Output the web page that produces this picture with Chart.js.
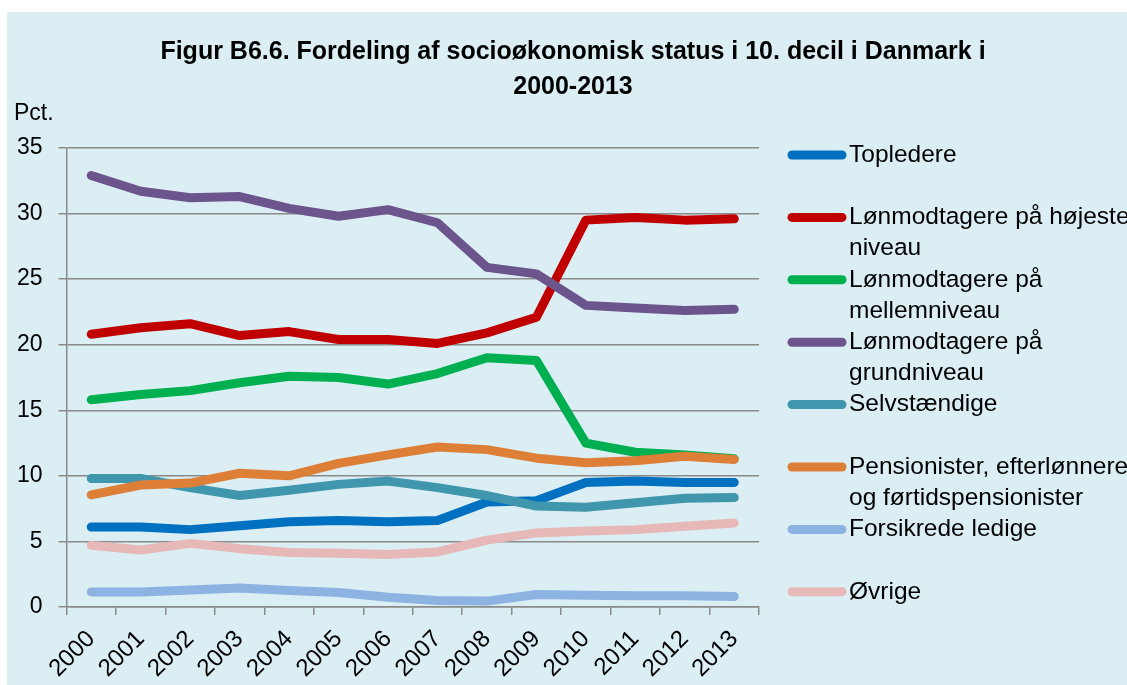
<!DOCTYPE html>
<html>
<head>
<meta charset="utf-8">
<script src="https://cdn.jsdelivr.net/npm/chart.js@4/dist/chart.umd.min.js"></script>
<style>
  html, body { margin: 0; padding: 0; background: #ffffff; }
  #wrap { width: 1127px; height: 685px; position: relative; }
</style>
</head>
<body>
<div id="wrap"><canvas id="c" width="1127" height="685"></canvas></div>
<script>
// Years on the category axis
const years = ['2000','2001','2002','2003','2004','2005','2006','2007','2008','2009','2010','2011','2012','2013'];

// Share of the 10th decile by socio-economic status (pct.)
const topledere      = [6.1, 6.1, 5.9, 6.2, 6.5, 6.6, 6.5, 6.6, 8.0, 8.1, 9.5, 9.6, 9.5, 9.5];
const hoejesteNiveau = [20.8, 21.3, 21.6, 20.7, 21.0, 20.4, 20.4, 20.1, 20.9, 22.1, 29.5, 29.7, 29.5, 29.6];
const mellemniveau   = [15.8, 16.2, 16.5, 17.1, 17.6, 17.5, 17.0, 17.8, 19.0, 18.8, 12.5, 11.8, 11.6, 11.3];
const grundniveau    = [32.9, 31.7, 31.2, 31.3, 30.4, 29.8, 30.3, 29.3, 25.9, 25.4, 23.0, 22.8, 22.6, 22.7];
const selvstaendige  = [9.8, 9.8, 9.1, 8.5, 8.9, 9.35, 9.6, 9.1, 8.5, 7.7, 7.6, 7.95, 8.3, 8.35];
const pensionister   = [8.55, 9.3, 9.45, 10.2, 10.0, 10.95, 11.6, 12.2, 12.0, 11.35, 11.0, 11.15, 11.5, 11.25];
const forsikrede     = [1.15, 1.15, 1.3, 1.45, 1.25, 1.1, 0.75, 0.5, 0.45, 0.95, 0.9, 0.85, 0.85, 0.8];
const oevrige        = [4.7, 4.35, 4.85, 4.45, 4.15, 4.1, 4.0, 4.2, 5.1, 5.65, 5.8, 5.9, 6.15, 6.4];

// Series names, and how each is broken over lines in the legend
const seriesNames = [
  'Topledere',
  'Lønmodtagere på højeste niveau',
  'Lønmodtagere på mellemniveau',
  'Lønmodtagere på grundniveau',
  'Selvstændige',
  'Pensionister, efterlønnere og førtidspensionister',
  'Forsikrede ledige',
  'Øvrige'
];
const legendLines = [
  ['Topledere'],
  ['Lønmodtagere på højeste', 'niveau'],
  ['Lønmodtagere på', 'mellemniveau'],
  ['Lønmodtagere på', 'grundniveau'],
  ['Selvstændige'],
  ['Pensionister, efterlønnere', 'og førtidspensionister'],
  ['Forsikrede ledige'],
  ['Øvrige']
];
const seriesColors = ['#0070C0', '#C00000', '#00B050', '#6C548C', '#4096AD', '#DE7F38', '#8DB3E2', '#E6B8B7'];
const seriesValues = [topledere, hoejesteNiveau, mellemniveau, grundniveau, selvstaendige, pensionister, forsikrede, oevrige];

// Y axis tick values
const yMin = 0, yMax = 35, yStep = 5;

const titleLines = ['Figur B6.6. Fordeling af socioøkonomisk status i 10. decil i Danmark i', '2000-2013'];
const yAxisUnit = 'Pct.';

const FONT = '"Liberation Sans", Arial, sans-serif';
const BG = '#DBEEF4';
const GRID = '#8A8A8A';

const panelPlugin = {
  id: 'panel',
  beforeDraw(chart) {
    const ctx = chart.ctx;
    ctx.save();
    ctx.fillStyle = '#ffffff';
    ctx.fillRect(0, 0, chart.width, chart.height);
    ctx.fillStyle = BG;
    ctx.fillRect(7, 12, chart.width - 7, chart.height - 12);
    ctx.restore();
  },
  afterDraw(chart) {
    const ctx = chart.ctx;
    ctx.save();
    // Title
    ctx.fillStyle = '#000000';
    ctx.textAlign = 'center';
    ctx.textBaseline = 'middle';
    ctx.font = 'bold 25px ' + FONT;
    titleLines.forEach((t, i) => ctx.fillText(t, 573, 52 + i * 35));
    // Unit label above the y axis
    ctx.textAlign = 'left';
    ctx.font = '23px ' + FONT;
    ctx.fillText(yAxisUnit, 14, 114);
    // Legend
    ctx.font = '24.5px ' + FONT;
    chart.data.datasets.forEach((ds, i) => {
      const y = 155 + i * 62.4;
      ctx.strokeStyle = ds.borderColor;
      ctx.lineWidth = 9;
      ctx.lineCap = 'round';
      ctx.beginPath();
      ctx.moveTo(792, y);
      ctx.lineTo(842, y);
      ctx.stroke();
      ctx.fillStyle = '#000000';
      legendLines[i].forEach((line, k) => ctx.fillText(line, 849, y + k * 31));
    });
    ctx.restore();
  }
};

const datasets = seriesNames.map((name, i) => ({
  label: name,
  data: seriesValues[i],
  borderColor: seriesColors[i],
  backgroundColor: seriesColors[i],
  borderWidth: 9,
  borderCapStyle: 'round',
  borderJoinStyle: 'round',
  pointRadius: 0,
  pointHoverRadius: 0,
  tension: 0,
  fill: false,
  order: seriesNames.length - i
}));

new Chart(document.getElementById('c'), {
  type: 'line',
  data: { labels: years, datasets },
  options: {
    responsive: false,
    animation: false,
    devicePixelRatio: 1,
    layout: { padding: { top: 148, right: 368, left: 0, bottom: 0 } },
    plugins: {
      legend: { display: false },
      title: { display: false },
      tooltip: { enabled: false }
    },
    scales: {
      x: {
        type: 'category',
        offset: true,
        afterFit(scale) { scale.height = 78; },
        grid: {
          offset: true,
          drawOnChartArea: false,
          drawTicks: true,
          tickLength: 8,
          color: GRID,
          lineWidth: 1.5
        },
        border: { display: true, color: GRID, width: 1.5 },
        ticks: {
          autoSkip: false,
          maxRotation: 45,
          minRotation: 45,
          padding: 10,
          color: '#000000',
          font: { family: FONT, size: 24 }
        }
      },
      y: {
        min: yMin,
        max: yMax,
        afterFit(scale) { scale.width = 66.5; },
        grid: {
          color: GRID,
          lineWidth: 1.5,
          drawTicks: true,
          tickLength: 8
        },
        border: { display: true, color: GRID, width: 1.5 },
        ticks: {
          stepSize: yStep,
          padding: 16,
          color: '#000000',
          font: { family: FONT, size: 23 }
        }
      }
    }
  },
  plugins: [panelPlugin]
});
</script>
</body>
</html>
